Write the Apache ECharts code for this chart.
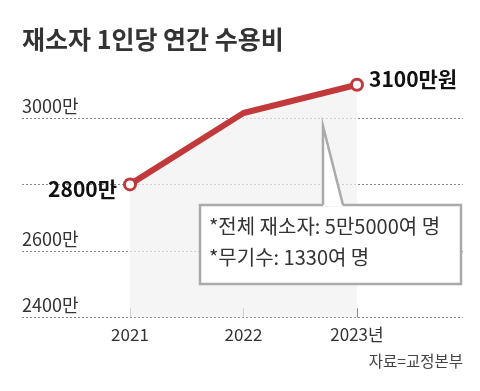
<!DOCTYPE html>
<html><head><meta charset="utf-8">
<script src="https://cdn.jsdelivr.net/npm/echarts@6/dist/echarts.min.js"></script>
<style>html,body{margin:0;padding:0;background:#fff}#c{width:480px;height:391px}</style>
</head><body><div id="c"></div>
<script>
const years = [2021, 2022, 2023];
const values = [2800, 3015, 3100];
const yTicks = [2400, 2600, 3000];
const title = '재소자 1인당 연간 수용비';
const source = '자료=교정본부';
const noteLines = ['*전체 재소자: 5만5000여 명', '*무기수: 1330여 명'];
const FONT = '"Noto Sans CJK KR", sans-serif';

const chart = echarts.init(document.getElementById('c'));
chart.setOption({
  animation: false,
  backgroundColor: '#fff',
  grid: { left: 22, right: 17, top: 51.5, bottom: 73.7 },
  xAxis: {
    type: 'value', min: 2020.0485, max: 2023.934,
    axisLine: { show: false },
    splitLine: { show: false },
    axisTick: { show: true, inside: true, length: 9, customValues: years, lineStyle: { color: '#888', width: 1 } },
    axisLabel: { customValues: years, margin: 9, color: '#333', fontFamily: FONT, fontSize: 17,
      formatter: v => v === 2023 ? v + '년' : String(v) }
  },
  yAxis: {
    type: 'value', min: 2400, max: 3200, interval: 200,
    axisLine: { show: false }, axisTick: { show: false },
    splitLine: { show: true, showMinLine: true, showMaxLine: false, lineStyle: { color: '#8a8a8a', type: [2, 2], width: 1 } },
    axisLabel: { inside: true, align: 'left', verticalAlign: 'bottom', margin: 0, padding: [0, 0, 3, 0],
      color: '#333', fontFamily: FONT, fontSize: 18,
      formatter: v => yTicks.includes(v) ? v + '만' : '' }
  },
  series: [{
    type: 'line',
    lineStyle: { color: '#c1393b', width: 6 },
    itemStyle: { color: '#fff', borderColor: '#c1393b', borderWidth: 3 },
    symbol: 'circle', symbolSize: 11,
    showAllSymbol: true,
    areaStyle: { color: '#f1f1f1', origin: 'start' },
    z: 3,
    label: {
      show: true, fontFamily: FONT, fontSize: 21, fontWeight: 'bold', color: '#111',
      position: 'left', distance: 6,
      formatter: p => p.dataIndex === 0 ? p.value[1] + '만' : (p.dataIndex === 2 ? p.value[1] + '만원' : '')
    },
    labelLayout: p => p.dataIndex === 0 ? { dy: 5 } : { dy: -6 },
    data: years.map((y, i) => ({
      value: [y, values[i]],
      symbol: i === 1 ? 'none' : 'circle',
      label: i === 2 ? { position: 'right', distance: 5 } : undefined
    }))
  }],
  graphic: [
    { type: 'text', left: 22, top: 27, style: { text: title, fontFamily: FONT, fontSize: 25, fontWeight: 'bold', fill: '#333' } },
    { type: 'text', right: 17, top: 353, style: { text: source, fontFamily: FONT, fontSize: 15.5, fill: '#444' } },
    { type: 'rect', shape: { x: 200, y: 205, width: 261, height: 79 }, style: { fill: '#fff', stroke: '#aaa', lineWidth: 2.5 }, z: 10 },
    { type: 'polygon', shape: { points: [[323, 126], [323, 206.5], [343, 206.5]] }, style: { fill: '#fff', stroke: null }, z: 11 },
    { type: 'polyline', shape: { points: [[323, 205], [323, 126], [343, 205]] }, style: { fill: null, stroke: '#aaa', lineWidth: 2.5 }, z: 12 },
    { type: 'text', left: 209, top: 216, style: { text: noteLines[0], fontFamily: FONT, fontSize: 20, fill: '#333' }, z: 13 },
    { type: 'text', left: 209, top: 247, style: { text: noteLines[1], fontFamily: FONT, fontSize: 20, fill: '#333' }, z: 13 }
  ]
});
</script></body></html>
